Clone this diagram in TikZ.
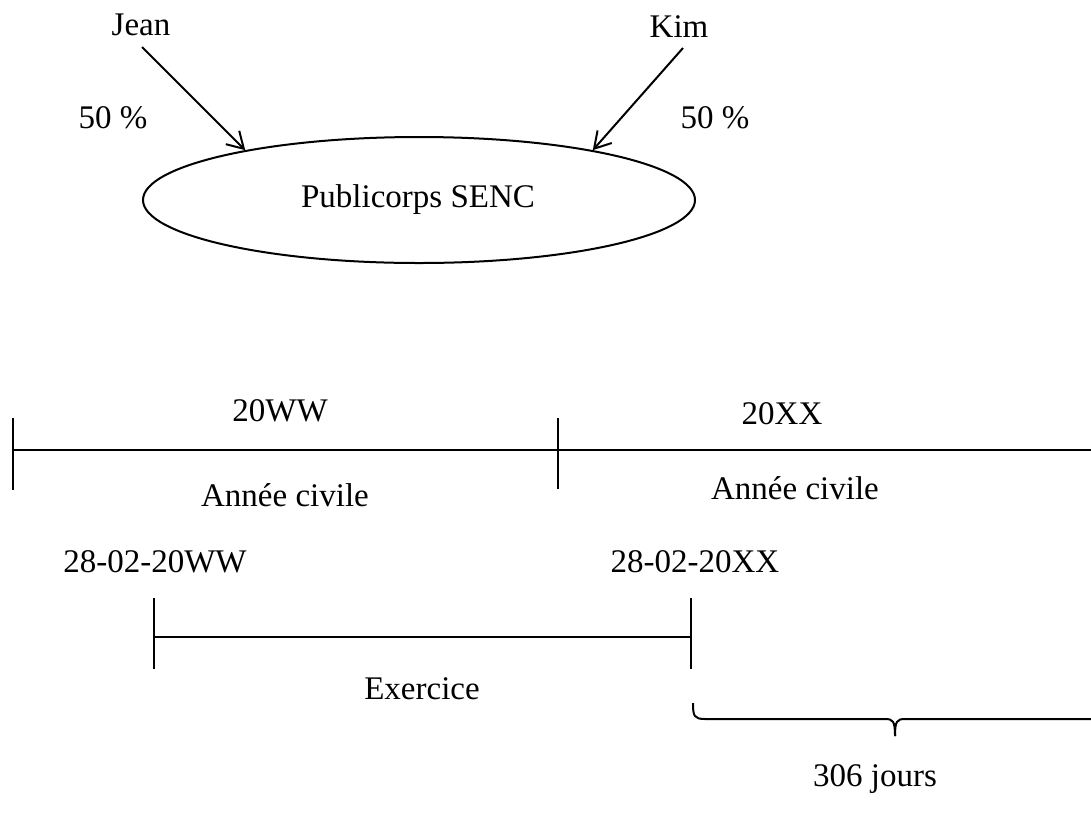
\documentclass[tikz,border=0pt]{standalone}
\usepackage{fontspec}
\setmainfont{Liberation Serif}
\usetikzlibrary{arrows.meta,shapes.geometric}
\begin{document}
\begin{tikzpicture}[x=0.5pt,y=-0.5pt,
  lbl/.style={anchor=base,inner sep=0pt,font=\fontsize{16.5pt}{18pt}\selectfont},
  ln/.style={line width=1pt},
  arr/.style={ln,-{Straight Barb[length=8pt,width=9.5pt,line width=1pt]}}]
\useasboundingbox (0,0) rectangle (1091,815);
% top part
\node[lbl] (jean) at (141,35) {Jean};
\node[lbl] (kim) at (679,37) {Kim};
\node[lbl] (pl) at (113,128) {50 \%};
\node[lbl] (pr) at (715,128) {50 \%};
\node[draw,ln,ellipse,inner sep=0pt,minimum width=276pt,minimum height=63pt] (senc) at (419,200) {};
\node[lbl] (senct) at (418,207) {Publicorps SENC};
\coordinate (js) at (142,47);
\coordinate (ks) at (683,48);
\draw[arr] (js) -- (senc.164);
\draw[arr] (ks) -- (senc.16);
% timeline 1
\coordinate (a0) at (13,450);
\coordinate (a1) at (558,450);
\coordinate (a2) at (1091,450);
\draw[ln] (a0) -- (a2);
\draw[ln] (13,418) -- (13,490);
\draw[ln] (558,418) -- (558,489);
\node[lbl] (ww) at (280,421) {20WW};
\node[lbl] (xx) at (782,424) {20XX};
\node[lbl] (ac1) at (285,506) {Année civile};
\node[lbl] (ac2) at (795,499) {Année civile};
% timeline 2
\node[lbl] (d1) at (155,572) {28-02-20WW};
\node[lbl] (d2) at (695,572) {28-02-20XX};
\draw[ln] (154,637) -- (691,637);
\draw[ln] (154,598) -- (154,669);
\draw[ln] (691,598) -- (691,669);
\node[lbl] (ex) at (422,699) {Exercice};
% brace
\draw[ln] (693,703) .. controls (693,716) and (694,719) .. (705,719) -- (885,719) .. controls (893,719) and (895,721) .. (895,736);
\draw[ln] (895,736) .. controls (895,721) and (897,719) .. (905,719) -- (1091,719);
\node[lbl] (jours) at (875,786) {306 jours};
\end{tikzpicture}
\end{document}
